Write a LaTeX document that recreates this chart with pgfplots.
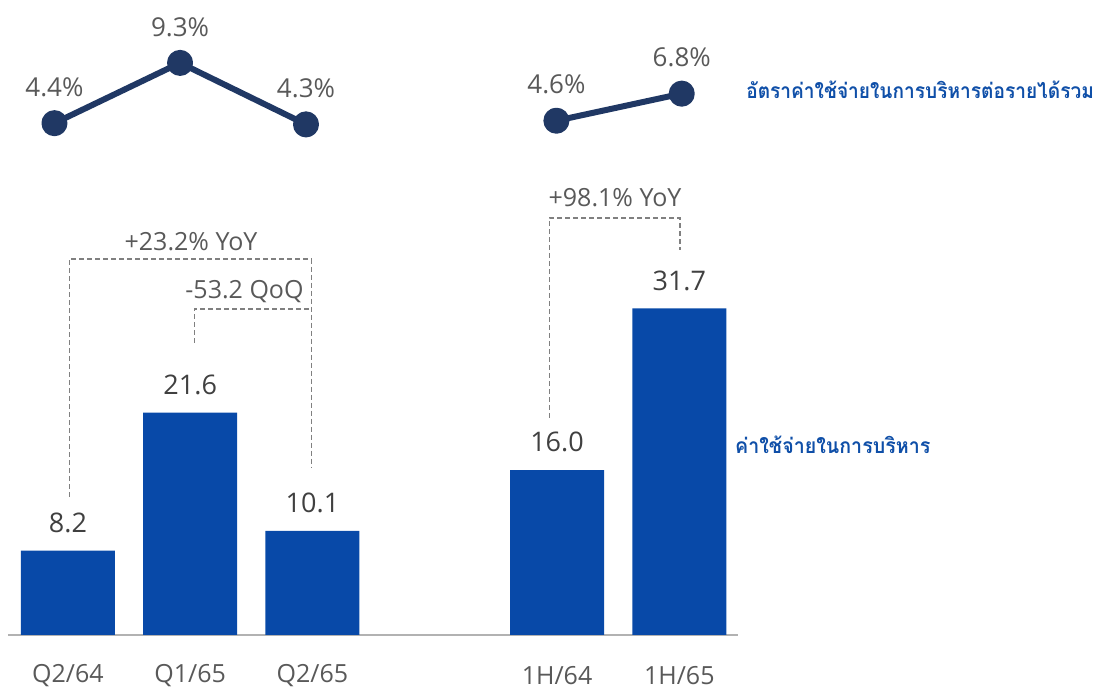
\documentclass[border=0pt]{standalone}
\usepackage{pgfplots}
\pgfplotsset{compat=1.18}
\usepackage{fontspec}
\setmainfont{Open Sans}
\newfontfamily\thaifont[Script=Thai]{Loma}
\definecolor{barblue}{HTML}{0849A8}
\definecolor{navy}{HTML}{203864}
\definecolor{lblgray}{HTML}{404040}
\definecolor{txtgray}{HTML}{595959}
\definecolor{thaiblue}{HTML}{0F4FA8}
\definecolor{dashgray}{HTML}{808080}
\begin{document}
\begin{tikzpicture}[x=1pt,y=1pt]
\useasboundingbox (0,0) rectangle (1098,690);
% ---- bars ----
\begin{axis}[
  scale only axis, width=730pt, height=412pt,
  at={(8pt,55pt)}, anchor=south west,
  xmin=-0.49, xmax=5.48, ymin=0, ymax=40,
  clip=false,
  axis y line=none, axis x line*=bottom,
  x axis line style={-, draw=black!30, line width=2pt},
  xtick={0,1,2,4,5},
  xticklabels={Q2/64,Q1/65,Q2/65,1H/64,1H/65},
  major tick length=0pt, tick style={draw=none},
  xticklabel style={anchor=center, yshift=-41pt, text=txtgray, font=\fontsize{25}{30}\selectfont},
]
\addplot[ybar, bar width=94pt, fill=barblue, draw=none] coordinates {(0,8.2)(1,21.6)(2,10.1)(4,16.0)(5,31.7)};
\foreach \x/\y/\t in {0/8.2/8.2, 1/21.6/21.6, 2/10.1/10.1, 4/16.0/16.0, 5/31.7/31.7}{
  \edef\tmp{\noexpand\node[anchor=center, yshift=28pt, text=lblgray, font=\noexpand\fontsize{27}{32}\noexpand\selectfont] at (axis cs:\x,\y) {\t};}
  \tmp
}
\end{axis}
% ---- ratio line ----
\begin{axis}[
  scale only axis, width=730pt, height=123pt,
  at={(8pt,512.7pt)}, anchor=south west,
  xmin=-0.49, xmax=5.48, ymin=0, ymax=10,
  clip=false, hide axis,
]
\addplot[navy, line width=6pt, line join=round, mark=*, mark size=10pt, mark options={fill=navy, draw=none}] coordinates {(-0.11,4.4)(0.917,9.3)(1.947,4.3)};
\addplot[navy, line width=6pt, line join=round, mark=*, mark size=10pt, mark options={fill=navy, draw=none}] coordinates {(3.995,4.6)(5.02,6.8)};
\foreach \x/\y/\t in {-0.11/4.4/4.4, 0.917/9.3/9.3, 1.947/4.3/4.3, 3.995/4.6/4.6, 5.02/6.8/6.8}{
  \edef\tmp{\noexpand\node[anchor=center, yshift=36pt, text=txtgray, font=\noexpand\fontsize{26}{31}\noexpand\selectfont] at (axis cs:\x,\y) {\t\noexpand\%};}
  \tmp
}
\end{axis}
% ---- comparison brackets ----
\begin{scope}[draw=dashgray, line width=1.3pt, dash pattern=on 5pt off 3pt]
\draw (69.3,193) -- (69.3,431) -- (311.7,431) -- (311.7,223);
\draw (194.3,347) -- (194.3,381) -- (311.7,381);
\draw (549.3,272) -- (549.3,472) -- (680,472) -- (680,440);
\end{scope}
\begin{scope}[every node/.style={text=txtgray, font=\fontsize{25}{30}\selectfont, anchor=center}]
\node at (191,448) {+23.2\% YoY};
\node at (244.5,398.3) {-53.2 QoQ};
\node at (615,492.5) {+98.1\% YoY};
\end{scope}
% ---- series labels ----
\node[anchor=west, text=thaiblue, font=\thaifont\bfseries\fontsize{21}{25}\selectfont, inner sep=0pt] at (735,245) {\scalebox{0.935}[1]{ค่าใช้จ่ายในการบริหาร}};
\node[anchor=east, text=thaiblue, font=\thaifont\bfseries\fontsize{21}{25}\selectfont, inner sep=0pt] at (1094,600) {\scalebox{0.91}[1]{อัตราค่าใช้จ่ายในการบริหารต่อรายได้รวม}};
\end{tikzpicture}
\end{document}
